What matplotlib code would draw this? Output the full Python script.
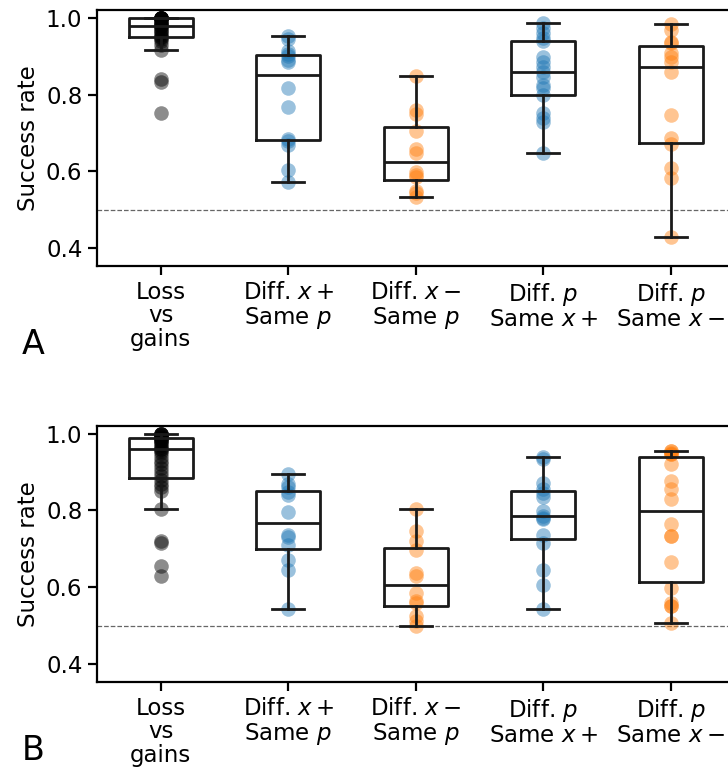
import numpy as np
import matplotlib.pyplot as plt

# -----------------------------
# data
# -----------------------------
labels = ["Loss\nvs\ngains",
          "Diff. $x+$\nSame $p$",
          "Diff. $x-$\nSame $p$",
          "Diff. $p$\nSame $x+$",
          "Diff. $p$\nSame $x-$"]
colors = ["k", "tab:blue", "tab:orange", "tab:blue", "tab:orange"]

# panel A
a_loss = [1.0] * 8 + [0.99] * 3 + [0.985] + [0.98] * 3 + [0.975, 0.97, 0.965, 0.96, 0.955,
          0.95, 0.95, 0.945, 0.94, 0.93, 0.917, 0.84, 0.833, 0.753]
a_xplus = [0.573, 0.604, 0.67, 0.68, 0.684, 0.767, 0.818,
           0.885, 0.89, 0.9, 0.905, 0.915, 0.945, 0.953]
a_xminus = [0.534, 0.543, 0.55, 0.585, 0.591, 0.598,
            0.649, 0.658, 0.705, 0.75, 0.76, 0.849]
a_pplus = [0.647, 0.73, 0.738, 0.751, 0.799, 0.817, 0.825, 0.845, 0.86,
           0.873, 0.886, 0.899, 0.94, 0.948, 0.96, 0.973, 0.986]
a_pminus = [0.428, 0.582, 0.608, 0.671, 0.686, 0.747, 0.86,
            0.886, 0.899, 0.908, 0.934, 0.938, 0.969, 0.984]

# panel B
b_loss = [1.0] * 5 + [0.995] * 2 + [0.99] * 3 + [0.985, 0.98, 0.98, 0.975, 0.97, 0.965,
          0.96, 0.96, 0.955, 0.95, 0.94, 0.93, 0.92, 0.91, 0.9, 0.89, 0.88, 0.87,
          0.86, 0.85, 0.805, 0.72, 0.716, 0.655, 0.629]
b_xplus = [0.542, 0.646, 0.67, 0.709, 0.731, 0.737,
           0.796, 0.84, 0.848, 0.862, 0.868, 0.896]
b_xminus = [0.498, 0.511, 0.524, 0.56, 0.563, 0.585,
            0.629, 0.638, 0.698, 0.72, 0.746, 0.804]
b_pplus = [0.542, 0.605, 0.646, 0.716, 0.737, 0.777, 0.78, 0.785,
           0.798, 0.836, 0.846, 0.855, 0.872, 0.933, 0.94]
b_pminus = [0.507, 0.55, 0.55, 0.559, 0.598, 0.665, 0.733, 0.733, 0.766,
            0.829, 0.855, 0.876, 0.92, 0.946, 0.946, 0.95, 0.956, 0.956]

panel_a = [a_loss, a_xplus, a_xminus, a_pplus, a_pminus]
panel_b = [b_loss, b_xplus, b_xminus, b_pplus, b_pminus]

FS = 16.5
plt.rcParams["font.size"] = FS
plt.rcParams["axes.linewidth"] = 1.6


def kresli(ax, skupiny):
    for i, hodnoty in enumerate(skupiny):
        ax.scatter(np.full(len(hodnoty), i), hodnoty, s=110, color=colors[i],
                   alpha=0.45, linewidths=0, zorder=1)
    bp = ax.boxplot(skupiny, positions=range(len(skupiny)), widths=0.5,
                    showfliers=False, patch_artist=False, zorder=2)
    for key in ["boxes", "whiskers", "caps", "medians"]:
        for ln in bp[key]:
            ln.set_color("#1a1a1a")
            ln.set_linewidth(2.0)
    ax.axhline(0.5, color="0.4", linestyle="--", linewidth=0.9, zorder=0)
    ax.set_xlim(-0.5, 4.5)
    ax.set_ylim(0.353, 1.021)
    ax.set_yticks([0.4, 0.6, 0.8, 1.0])
    ax.set_xticks(range(5))
    ax.set_xticklabels(labels)
    for t in ax.get_xticklabels():
        t.set_linespacing(1.05)
    ax.set_ylabel("Success rate")
    ax.tick_params(length=6.5, width=1.6, pad=4, labelsize=FS)


fig = plt.figure(figsize=(7.28, 7.74), dpi=100)
axA = fig.add_axes([97 / 728, 1 - 266 / 774, 637.5 / 728, 256 / 774])
axB = fig.add_axes([97 / 728, 1 - 682 / 774, 637.5 / 728, 256.3 / 774])

kresli(axA, panel_a)
kresli(axB, panel_b)

fig.text(33.5 / 728, 1 - 344 / 774, "A", fontsize=24, ha="center", va="center")
fig.text(33.5 / 728, 1 - 750 / 774, "B", fontsize=24, ha="center", va="center")

fig.savefig("out.png", dpi=100)
